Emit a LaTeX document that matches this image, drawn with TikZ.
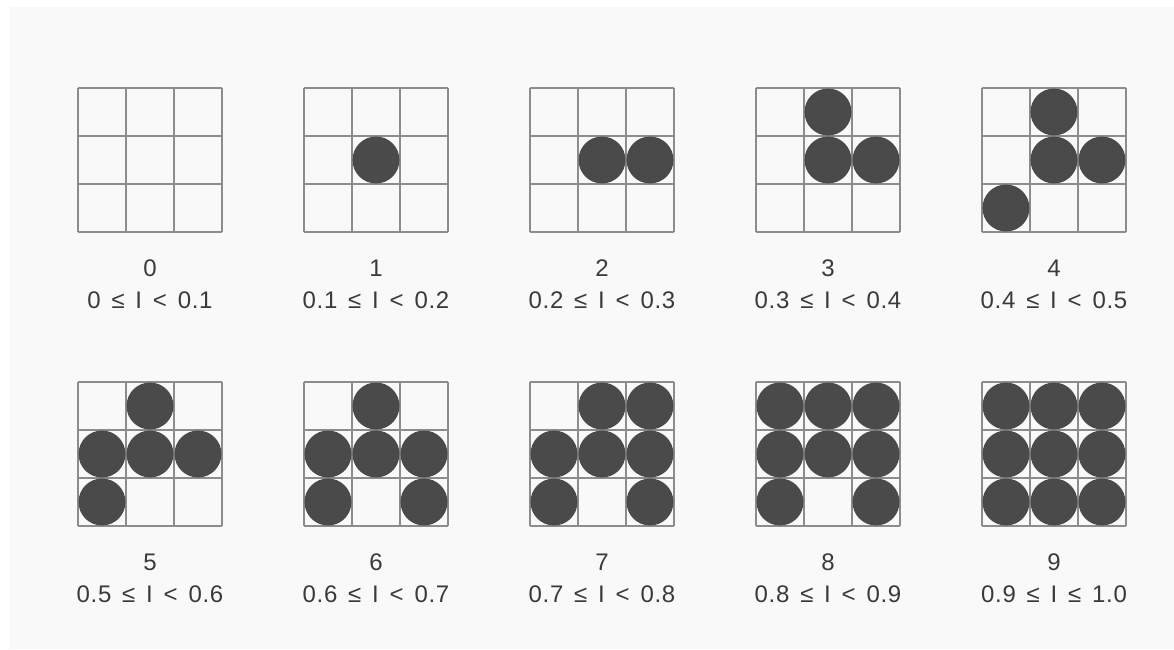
\documentclass[tikz,border=0pt]{standalone}
\usepackage{fontspec}
\setmainfont{Liberation Sans}[LetterSpace=3]
\usetikzlibrary{calc}
\definecolor{gridline}{HTML}{8C8C8C}
\definecolor{dotfill}{HTML}{4A4A4A}
\definecolor{paper}{HTML}{F9F9F9}
\definecolor{inkgray}{HTML}{3A3A3A}
\newcommand{\gap}{\hspace{0.45em}}
\tikzset{
  cellgrid/.style={draw=gridline, line width=0.7pt},
  dot/.style={circle, fill=dotfill, draw=none, minimum size=23.5pt, inner sep=0pt},
  levelno/.style={text=inkgray, font=\fontsize{12}{14}\selectfont, inner sep=0pt},
}
\begin{document}
\begin{tikzpicture}[x=0.5pt, y=-0.5pt]

\useasboundingbox (0,0) rectangle (1174,649);
\fill[white] (0,0) rectangle (1174,649);
\fill[paper] (10,7) rectangle (1174,649);

% Rejillas 3x3
\foreach \n in {0,...,9} {
	\pgfmathtruncatemacro{\gc}{mod(\n,5)}
	\pgfmathtruncatemacro{\gr}{int(\n/5)}
	\begin{scope}[shift={(78+226*\gc, 88+294*\gr)}]
		\foreach \k in {0, 48, 96, 144} {
			\draw[cellgrid] (\k,0) -- (\k,144);
			\draw[cellgrid] (0,\k) -- (144,\k);
		}
		\coordinate (g\n) at (72,72);
	\end{scope}
}

% Puntos de cada nivel
\foreach \n/\cells in {
	1/{1/1},
	2/{1/1, 1/2},
	3/{0/1, 1/1, 1/2},
	4/{0/1, 1/1, 1/2, 2/0},
	5/{0/1, 1/0, 1/1, 1/2, 2/0},
	6/{0/1, 1/0, 1/1, 1/2, 2/0, 2/2},
	7/{0/1, 0/2, 1/0, 1/1, 1/2, 2/0, 2/2},
	8/{0/0, 0/1, 0/2, 1/0, 1/1, 1/2, 2/0, 2/2},
	9/{0/0, 0/1, 0/2, 1/0, 1/1, 1/2, 2/0, 2/1, 2/2}} {
	\foreach \r/\c in \cells
		\node[dot] (d\n-\r\c) at ($(g\n)+(48*\c-48, 48*\r-48)$) {};
}

% Etiquetas
\foreach \n/\txt in {
	0/{0\gap≤\gap I\gap<\gap0.1},
	1/{0.1\gap≤\gap I\gap<\gap0.2},
	2/{0.2\gap≤\gap I\gap<\gap0.3},
	3/{0.3\gap≤\gap I\gap<\gap0.4},
	4/{0.4\gap≤\gap I\gap<\gap0.5},
	5/{0.5\gap≤\gap I\gap<\gap0.6},
	6/{0.6\gap≤\gap I\gap<\gap0.7},
	7/{0.7\gap≤\gap I\gap<\gap0.8},
	8/{0.8\gap≤\gap I\gap<\gap0.9},
	9/{0.9\gap≤\gap I\gap≤\gap1.0}} {
	\node[levelno] (num\n) at ($(g\n)+(0,108)$) {\n};
	\node[levelno] (rng\n) at ($(g\n)+(0,140)$) {\txt};
}
\end{tikzpicture}
\end{document}
